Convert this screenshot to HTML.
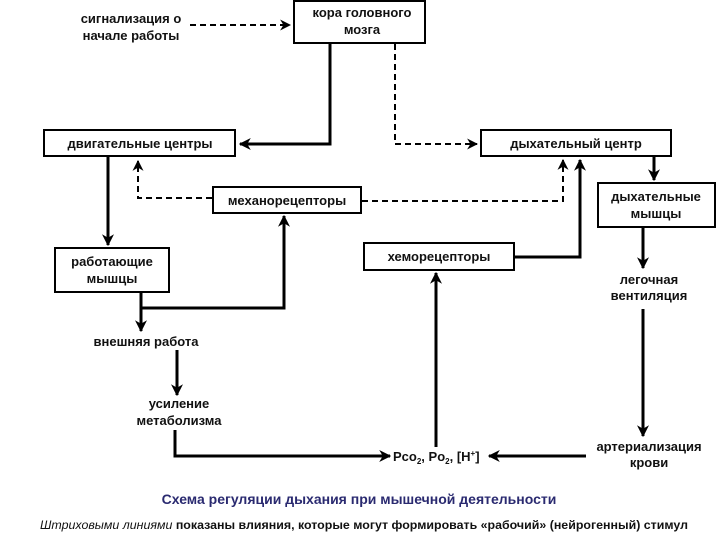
<!DOCTYPE html>
<html><head><meta charset="utf-8"><style>
html,body{margin:0;padding:0;background:#fff;}
svg{display:block;font-family:"Liberation Sans",Arial,sans-serif;}
text{font-size:13px;fill:#111;font-weight:bold;}
</style></head><body>
<svg width="720" height="540" viewBox="0 0 720 540" xmlns="http://www.w3.org/2000/svg">
<defs>
<marker id="a" viewBox="0 0 10 10" refX="9" refY="5" markerWidth="4" markerHeight="4" orient="auto" markerUnits="strokeWidth"><path d="M0,0 L10,5 L0,10 L3,5 z" fill="#000"/></marker>
<marker id="d" viewBox="0 0 10 10" refX="9" refY="5" markerWidth="5.5" markerHeight="5.5" orient="auto" markerUnits="strokeWidth"><path d="M0,0 L10,5 L0,10 L3,5 z" fill="#000"/></marker>
</defs>
<g fill="none" stroke="#000" stroke-width="2">
<rect x="294" y="1" width="131" height="42"/>
<rect x="44" y="130" width="191" height="26"/>
<rect x="481" y="130" width="190" height="26"/>
<rect x="213" y="187" width="148" height="26"/>
<rect x="598" y="183" width="117" height="44"/>
<rect x="364" y="243" width="150" height="27"/>
<rect x="55" y="248" width="114" height="44"/>
</g>
<g fill="none" stroke="#000" stroke-width="3">
<polyline points="330,43 330,144 240,144" marker-end="url(#a)"/>
<line x1="108" y1="157" x2="108" y2="245" marker-end="url(#a)"/>
<polyline points="514,257 580,257 580,160" marker-end="url(#a)"/>
<line x1="654" y1="157" x2="654" y2="180" marker-end="url(#a)"/>
<line x1="643" y1="228" x2="643" y2="268" marker-end="url(#a)"/>
<line x1="643" y1="309" x2="643" y2="436" marker-end="url(#a)"/>
<line x1="586" y1="456" x2="489" y2="456" marker-end="url(#a)"/>
<line x1="436" y1="447" x2="436" y2="273" marker-end="url(#a)"/>
<polyline points="141,292 141,308 284,308 284,216" marker-end="url(#a)"/>
<line x1="141" y1="308" x2="141" y2="331" marker-end="url(#a)"/>
<line x1="177" y1="350" x2="177" y2="395" marker-end="url(#a)"/>
<polyline points="175,430 175,456 390,456" marker-end="url(#a)"/>
</g>
<g fill="none" stroke="#000" stroke-width="2" stroke-dasharray="6,4">
<line x1="190" y1="25" x2="290" y2="25" marker-end="url(#d)"/>
<polyline points="395,44 395,144 477,144" marker-end="url(#d)"/>
<polyline points="212,198 138,198 138,161" marker-end="url(#d)"/>
<polyline points="362,201 563,201 563,160" marker-end="url(#d)"/>
</g>
<g text-anchor="middle">
<text x="131" y="23">сигнализация о</text>
<text x="131" y="40">начале работы</text>
<text x="362" y="17">кора головного</text>
<text x="362" y="34">мозга</text>
<text x="140" y="148">двигательные центры</text>
<text x="576" y="148">дыхательный центр</text>
<text x="287" y="205">механорецепторы</text>
<text x="656" y="201">дыхательные</text>
<text x="656" y="218">мышцы</text>
<text x="439" y="261">хеморецепторы</text>
<text x="112" y="266">работающие</text>
<text x="112" y="283">мышцы</text>
<text x="649" y="284">легочная</text>
<text x="649" y="300">вентиляция</text>
<text x="146" y="346">внешняя работа</text>
<text x="179" y="408">усиление</text>
<text x="179" y="425">метаболизма</text>
<text x="649" y="451">артериализация</text>
<text x="649" y="467">крови</text>
</g>
<text x="393" y="461">Pco<tspan font-size="8" dy="3">2</tspan><tspan dy="-3">, Po</tspan><tspan font-size="8" dy="3">2</tspan><tspan dy="-3">, [H</tspan><tspan font-size="8" dy="-5">+</tspan><tspan dy="5">]</tspan></text>
<text x="359" y="504" text-anchor="middle" style="fill:#2a2a70;font-size:14px">Схема регуляции дыхания при мышечной деятельности</text>
<text x="40" y="529" style="font-size:11.5px" textLength="648" lengthAdjust="spacingAndGlyphs"><tspan font-style="italic" font-weight="normal">Штриховыми линиями</tspan> показаны влияния, которые могут формировать «рабочий» (нейрогенный) стимул</text>
</svg>
</body></html>
